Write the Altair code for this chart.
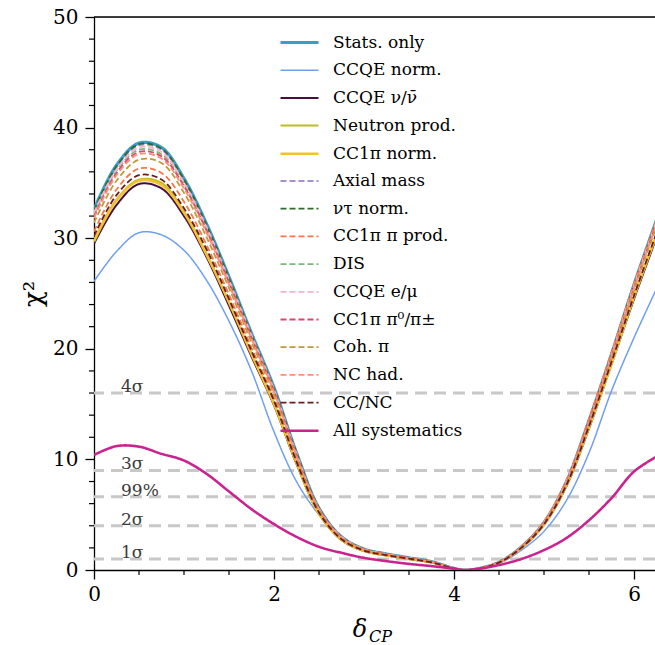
import altair as alt
import pandas as pd

FONT = "DejaVu Serif"

delta = [0, 0.25, 0.5, 0.75, 1.0, 1.25, 1.5, 1.75, 2.0, 2.25, 2.5, 2.75, 3.0, 3.25, 3.5,
         3.75, 4.0, 4.1, 4.25, 4.5, 4.75, 5.0, 5.25, 5.5, 5.75, 6.0, 6.283]

labels = ["Stats. only", "CCQE norm.", "CCQE ν/ν\u0304", "Neutron prod.", "CC1π norm.",
          "Axial mass", "ντ norm.", "CC1π π prod.", "DIS", "CCQE e/μ",
          "CC1π π⁰/π±", "Coh. π", "NC had.", "CC/NC", "All systematics"]

stats_only = [32.6, 36.6, 38.6, 38.2, 35.4, 31.3, 26.5, 21.4, 16.5, 10.6, 5.6, 3.0, 1.9, 1.45, 1.1,
              0.75, 0.15, 0.0, 0.1, 0.7, 2.1, 4.3, 8.0, 13.5, 19.5, 25.8, 32.4]
ccqe_norm = [26.1, 28.8, 30.5, 30.3, 28.9, 26.2, 22.5, 18.0, 12.5, 8.0, 5.0, 2.9, 1.85, 1.4, 1.05,
             0.72, 0.14, 0.0, 0.09, 0.6, 1.8, 3.5, 6.3, 10.6, 16.2, 21.0, 26.0]
ccqe_nunubar = [29.5, 33.0, 34.9, 34.5, 32.0, 28.3, 23.9, 19.3, 14.9, 9.6, 5.1, 2.71, 1.72, 1.31, 0.99,
                0.68, 0.14, 0.0, 0.09, 0.67, 2.0, 4.09, 7.6, 12.8, 18.6, 24.5, 30.8]
neutron_prod = [29.8, 33.5, 35.3, 35.0, 32.4, 28.6, 24.2, 19.6, 15.1, 9.7, 5.1, 2.75, 1.74, 1.33, 1.01,
                0.69, 0.14, 0.0, 0.09, 0.67, 2.01, 4.12, 7.66, 12.9, 18.7, 24.7, 31.0]
cc1pi_norm = [29.7, 33.4, 35.2, 34.8, 32.3, 28.5, 24.2, 19.5, 15.0, 9.7, 5.1, 2.74, 1.73, 1.32, 1.0,
              0.68, 0.14, 0.0, 0.09, 0.67, 2.0, 4.11, 7.65, 12.9, 18.6, 24.7, 31.0]
axial_mass = [32.4, 36.4, 38.4, 38.0, 35.2, 31.1, 26.3, 21.3, 16.4, 10.5, 5.6, 3.0, 1.9, 1.44, 1.09,
              0.75, 0.15, 0.0, 0.1, 0.7, 2.1, 4.3, 8.0, 13.5, 19.4, 25.7, 32.3]
nutau_norm = [32.5, 36.5, 38.5, 38.1, 35.3, 31.2, 26.4, 21.3, 16.4, 10.6, 5.6, 3.0, 1.9, 1.45, 1.1,
              0.75, 0.15, 0.0, 0.1, 0.7, 2.1, 4.3, 8.0, 13.5, 19.5, 25.8, 32.3]
cc1pi_piprod = [30.6, 34.4, 36.3, 35.9, 33.3, 29.4, 24.9, 20.1, 15.5, 10.0, 5.3, 2.82, 1.79, 1.36, 1.03,
                0.71, 0.14, 0.0, 0.09, 0.71, 2.15, 4.4, 8.15, 13.7, 19.7, 25.9, 32.4]
dis = [32.1, 36.1, 38.0, 37.6, 34.9, 30.8, 26.1, 21.1, 16.3, 10.4, 5.5, 2.95, 1.87, 1.43, 1.08,
       0.74, 0.15, 0.0, 0.1, 0.69, 2.08, 4.27, 7.9, 13.4, 19.4, 25.6, 32.2]
ccqe_emu = [32.3, 36.2, 38.2, 37.8, 35.0, 31.0, 26.2, 21.2, 16.3, 10.5, 5.5, 3.0, 1.88, 1.44, 1.09,
            0.74, 0.15, 0.0, 0.1, 0.7, 2.1, 4.3, 8.0, 13.4, 19.4, 25.7, 32.2]
cc1pi_pi0 = [31.9, 35.9, 37.8, 37.4, 34.7, 30.7, 26.0, 21.0, 16.2, 10.4, 5.5, 2.94, 1.86, 1.42, 1.08,
             0.74, 0.15, 0.0, 0.1, 0.69, 2.08, 4.26, 7.9, 13.4, 19.3, 25.5, 32.1]
coh_pi = [31.4, 35.2, 37.1, 36.8, 34.1, 30.1, 25.5, 20.6, 15.9, 10.2, 5.4, 2.89, 1.83, 1.39, 1.06,
          0.72, 0.14, 0.0, 0.1, 0.69, 2.06, 4.22, 7.85, 13.2, 19.1, 25.3, 31.8]
nc_had = [31.8, 35.7, 37.6, 37.2, 34.5, 30.5, 25.8, 20.9, 16.1, 10.3, 5.5, 2.93, 1.85, 1.41, 1.07,
          0.73, 0.15, 0.0, 0.1, 0.69, 2.07, 4.25, 7.9, 13.3, 19.3, 25.5, 32.0]
cc_nc = [30.2, 33.9, 35.7, 35.3, 32.7, 29.0, 24.5, 19.8, 15.3, 9.8, 5.2, 2.78, 1.76, 1.34, 1.02,
         0.69, 0.14, 0.0, 0.09, 0.67, 2.02, 4.14, 7.7, 13.0, 18.8, 24.8, 31.2]
all_syst = [10.4, 11.2, 11.15, 10.5, 9.9, 8.7, 7.1, 5.5, 4.15, 3.0, 2.1, 1.55, 1.1, 0.8, 0.55,
            0.35, 0.12, 0.0, 0.08, 0.45, 1.0, 1.8, 2.9, 4.5, 6.5, 8.9, 10.4]

series = [stats_only, ccqe_norm, ccqe_nunubar, neutron_prod, cc1pi_norm, axial_mass, nutau_norm,
          cc1pi_piprod, dis, ccqe_emu, cc1pi_pi0, coh_pi, nc_had, cc_nc, all_syst]

colors = ["#3b9cc6", "#6f9ff0", "#4a0e3e", "#bcbd22", "#f2c12e", "#a78fd8", "#2f6b2f",
          "#f47848", "#7cb87c", "#f6b4c6", "#e0446e", "#bf9a34", "#f8907a", "#6b1c1c", "#c8238e"]
solid = [1, 0]
dash = [6, 3]
dashes = [solid, solid, solid, solid, solid, dash, dash, dash, dash, dash, dash, dash, dash, dash, solid]
widths = [3.2, 1.5, 2.0, 2.0, 2.5, 1.8, 1.8, 1.8, 1.8, 1.8, 1.8, 1.8, 1.8, 1.8, 2.6]

sigma_levels = [1, 4, 6.63, 9, 16]
sigma_labels = ["1σ", "2σ", "99%", "3σ", "4σ"]

x_minor = [0.5, 1.0, 1.5, 2.5, 3.0, 3.5, 4.5, 5.0, 5.5]
y_minor = [2, 4, 6, 8, 12, 14, 16, 18, 22, 24, 26, 28, 32, 34, 36, 38, 42, 44, 46, 48]

rows = []
for lab, vals in zip(labels, series):
    for xv, yv in zip(delta, vals):
        rows.append({"delta": xv, "chi2": yv, "series": lab})
df = pd.DataFrame(rows)

x_scale = alt.Scale(domain=[0, 6.2333], nice=False, zero=False)
y_scale = alt.Scale(domain=[0, 50], nice=False, zero=False)

x_axis = alt.Axis(values=[0, 2, 4, 6], title=None, grid=False, labelFont=FONT, labelFontSize=20,
                  labelColor="black", tickColor="black", domainColor="black", tickSize=9,
                  tickWidth=1.3, domainWidth=1.3, labelPadding=5, format="d", labelFlush=False)
y_axis = alt.Axis(values=[0, 10, 20, 30, 40, 50], title="χ²", grid=False, labelFont=FONT,
                  labelFontSize=20, labelColor="black", tickColor="black", domainColor="black",
                  tickSize=9, tickWidth=1.3, domainWidth=1.3, labelPadding=7, format="d",
                  titleFont=FONT, titleFontSize=26, titleFontWeight="normal", titleColor="black",
                  titlePadding=6, labelFlush=False)

legend = alt.Legend(title=None, orient="none", legendX=194, legendY=14, labelFont=FONT,
                    labelFontSize=17, labelColor="black", symbolType="M-2,0L2,0", symbolSize=361,
                    rowPadding=8.7, labelOffset=22, padding=0, labelLimit=0)

lines = alt.Chart(df).mark_line(interpolate="catmull-rom", clip=True).encode(
    x=alt.X("delta:Q", scale=x_scale, axis=x_axis),
    y=alt.Y("chi2:Q", scale=y_scale, axis=y_axis),
    color=alt.Color("series:N", scale=alt.Scale(domain=labels, range=colors), legend=legend, sort=labels),
    strokeDash=alt.StrokeDash("series:N", scale=alt.Scale(type="ordinal", domain=labels, range=dashes),
                              legend=legend, sort=labels),
    strokeWidth=alt.StrokeWidth("series:N", scale=alt.Scale(type="ordinal", domain=labels, range=widths),
                                legend=legend, sort=labels),
)

sig_df = pd.DataFrame({"level": sigma_levels, "label": sigma_labels})
sig_lines = alt.Chart(sig_df).mark_rule(color="#c8c8c8", strokeWidth=3, strokeDash=[12, 7]).encode(
    y=alt.Y("level:Q", scale=y_scale, axis=y_axis)
)
sig_text = alt.Chart(sig_df).mark_text(align="left", baseline="alphabetic", font=FONT, fontSize=17,
                                      color="#3a3a3a", dy=-1).encode(
    y=alt.Y("level:Q", scale=y_scale, axis=y_axis), x=alt.value(27), text="label:N"
)

top_border = alt.Chart(pd.DataFrame({"v": [50]})).mark_rule(color="black", strokeWidth=1.3).encode(
    y=alt.Y("v:Q", scale=y_scale, axis=y_axis)
)

xm = alt.Chart(pd.DataFrame({"v": x_minor})).mark_rule(color="black", strokeWidth=1.2).encode(
    x=alt.X("v:Q", scale=x_scale, axis=x_axis), y=alt.value(553), y2=alt.value(558)
)
ym = alt.Chart(pd.DataFrame({"v": y_minor})).mark_rule(color="black", strokeWidth=1.2).encode(
    y=alt.Y("v:Q", scale=y_scale, axis=y_axis), x=alt.value(-5), x2=alt.value(0)
)

xt1 = alt.Chart(pd.DataFrame({"t": ["δ"]})).mark_text(font=FONT, fontSize=24, fontStyle="italic",
                                                       align="center", baseline="alphabetic").encode(
    text="t:N", x=alt.value(266), y=alt.value(620)
)
xt2 = alt.Chart(pd.DataFrame({"t": ["CP"]})).mark_text(font=FONT, fontSize=16, fontStyle="italic",
                                                        align="left", baseline="alphabetic").encode(
    text="t:N", x=alt.value(275), y=alt.value(625)
)

chart = alt.layer(sig_lines, sig_text, top_border, xm, ym, lines, xt1, xt2).properties(
    width=561, height=553, autosize="none",
    padding={"left": 94, "top": 17, "right": 0, "bottom": 75},
).configure_view(stroke=None).configure(background="white")

chart.save("out.html", embed_options={"renderer": "svg", "actions": False})
